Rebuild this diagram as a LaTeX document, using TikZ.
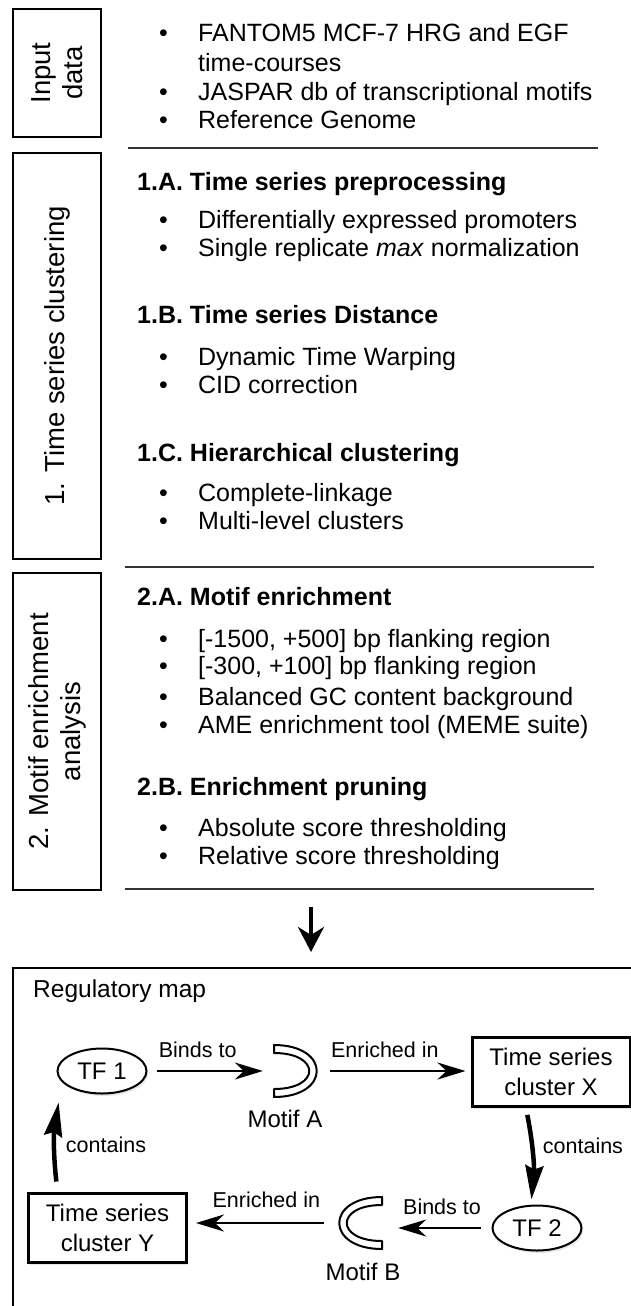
\documentclass[tikz,border=0pt]{standalone}
\usepackage{fontspec}
\setmainfont{Liberation Sans}
\usetikzlibrary{arrows.meta,shapes.geometric,shadows}

\newcommand{\txtsize}{\fontsize{25}{29}\selectfont}
\newcommand{\sidesize}{\fontsize{27.5}{32}\selectfont}
\newcommand{\lblsize}{\fontsize{21.5}{26}\selectfont}
\newcommand{\itm}[1]{\makebox[39pt][l]{\textbullet}#1}

\begin{document}
\begin{tikzpicture}[x=1pt,y=-1pt,
	sidebox/.style={draw, line width=2.5pt, rotate=90, minimum height=88, align=center, font=\sidesize, inner sep=0},
	txt/.style={anchor=base west, inner sep=0, font=\txtsize},
	head/.style={txt, font=\txtsize\bfseries},
	sepline/.style={line width=1.6pt, black!80},
	tf/.style={draw, ellipse, line width=2pt, minimum width=89, minimum height=45, inner sep=0, font=\fontsize{24}{29}\selectfont, fill=white,
		drop shadow={opacity=0.2, shadow xshift=1.5pt, shadow yshift=-2.5pt}},
	cluster/.style={draw, line width=3pt, minimum width=158, minimum height=69, inner sep=0, align=center,
		font=\fontsize{24}{30}\selectfont, fill=white, drop shadow={opacity=0.2, shadow xshift=1.5pt, shadow yshift=-2.5pt}},
	motif/.style={minimum width=50, minimum height=54, inner sep=0},
	motiflbl/.style={anchor=base, inner sep=0, font=\fontsize{24}{29}\selectfont},
	lbl/.style={font=\lblsize, inner sep=1pt},
	maparrow/.style={line width=2.5pt, -{Stealth[length=28pt, width=17pt, inset=9pt]}},
	thickarrow/.style={line width=4.5pt, -{Stealth[length=34pt, width=18pt, inset=4pt]}},
	crescent/.pic={\draw[line width=2pt, fill=white, line join=round] (-21,-26) .. controls (36,-26) and (36,26) .. (-21,26) -- (-21,18) .. controls (26,18) and (26,-18) .. (-21,-18) -- cycle;}
	]
	\useasboundingbox (0,0) rectangle (631,1306);

	% input data
	\node[sidebox, minimum width=128] (input) at (57,73) {Input\\data};
	\node[txt] (in1) at (159,42) {\itm{FANTOM5 MCF-7 HRG and EGF}};
	\node[txt] (in1b) at (198,71) {time-courses};
	\node[txt] (in2) at (159,100) {\itm{JASPAR db of transcriptional motifs}};
	\node[txt] (in3) at (159,128) {\itm{Reference Genome}};
	\draw[sepline] (128,148) -- (598,148);

	% 1. time series clustering
	\node[sidebox, minimum width=406] (tsc) at (57,356) {1. Time series clustering};
	\node[head] (h1a) at (137,190) {1.A. Time series preprocessing};
	\node[txt] (s1a1) at (159,228) {\itm{Differentially expressed promoters}};
	\node[txt] (s1a2) at (159,256) {\itm{Single replicate \textit{max} normalization}};
	\node[head] (h1b) at (137,323) {1.B. Time series Distance};
	\node[txt] (s1b1) at (159,365) {\itm{Dynamic Time Warping}};
	\node[txt] (s1b2) at (159,393) {\itm{CID correction}};
	\node[head] (h1c) at (137,461) {1.C. Hierarchical clustering};
	\node[txt] (s1c1) at (159,501) {\itm{Complete-linkage}};
	\node[txt] (s1c2) at (159,529) {\itm{Multi-level clusters}};
	\draw[sepline] (125,567) -- (594,567);

	% 2. motif enrichment
	\node[sidebox, minimum width=317] (mea) at (57,731.5) {2. Motif enrichment\\analysis};
	\node[head] (h2a) at (137,605) {2.A. Motif enrichment};
	\node[txt] (s2a1) at (159,647) {\itm{[-1500, +500] bp flanking region}};
	\node[txt] (s2a2) at (159,674) {\itm{[-300, +100] bp flanking region}};
	\node[txt] (s2a3) at (159,705) {\itm{Balanced GC content background}};
	\node[txt] (s2a4) at (159,733) {\itm{AME enrichment tool (MEME suite)}};
	\node[head] (h2b) at (137,795) {2.B. Enrichment pruning};
	\node[txt] (s2b1) at (159,836) {\itm{Absolute score thresholding}};
	\node[txt] (s2b2) at (159,864) {\itm{Relative score thresholding}};
	\draw[sepline] (125,889) -- (594,889);

	% arrow down to the map
	\coordinate (dtop) at (311,907);
	\coordinate (dbot) at (311,952);
	\draw[line width=4pt, -{Stealth[length=25pt, width=26pt, inset=8pt]}] (dtop) -- (dbot);

	% regulatory map
	\draw[line width=2.3pt] (13,1330) |- (660,968);
	\node[txt, font=\fontsize{24.5}{29}\selectfont] (maptitle) at (33,997) {Regulatory map};

	\node[tf] (tf1) at (102,1071) {TF 1};
	\node[motif] (motA) at (295,1071) {};
	\pic at (motA) {crescent};
	\node[motiflbl] (labA) at (285,1127) {Motif A};
	\node[cluster] (clX) at (551,1072) {Time series\\cluster X};

	\node[tf] (tf2) at (537,1228) {TF 2};
	\node[motif] (motB) at (361,1223) {};
	\pic[xscale=-1] at (motB) {crescent};
	\node[motiflbl] (labB) at (363,1280) {Motif B};
	\node[cluster] (clY) at (107.5,1227.5) {Time series\\cluster Y};

	\draw[maparrow, shorten <=9pt, shorten >=7pt] (tf1.east) -- node[lbl, above=11pt, pos=0.41] {Binds to} (motA.west); % TF 1 to motif A
	\draw[maparrow, shorten <=10pt, shorten >=5pt] (motA.east) -- node[lbl, above=11pt, pos=0.43] {Enriched in} (motA.east -| clX.west); % motif A to cluster X
	\draw[thickarrow, shorten <=7pt, shorten >=5pt] ([xshift=-25pt]clX.south) to[bend left=8] node[lbl, right=8pt, pos=0.38] {contains} ([xshift=-6pt]tf2.north); % cluster X to TF 2
	\draw[maparrow, shorten <=11pt, shorten >=12pt] (tf2.west) -- node[lbl, above=11pt, pos=0.47] {Binds to} (tf2.west -| motB.east); % TF 2 to motif B
	\draw[maparrow, shorten <=12pt, shorten >=8pt] (motB.west) -- node[lbl, above=13pt, pos=0.47] {Enriched in} (motB.west -| clY.east); % motif B to cluster Y
	\draw[thickarrow, shorten <=10pt, shorten >=8pt] ([xshift=-50pt]clY.north) to[bend left=8] node[lbl, right=8pt, pos=0.48] {contains} ([xshift=-42pt]tf1.south); % cluster Y to TF 1
\end{tikzpicture}
\end{document}
